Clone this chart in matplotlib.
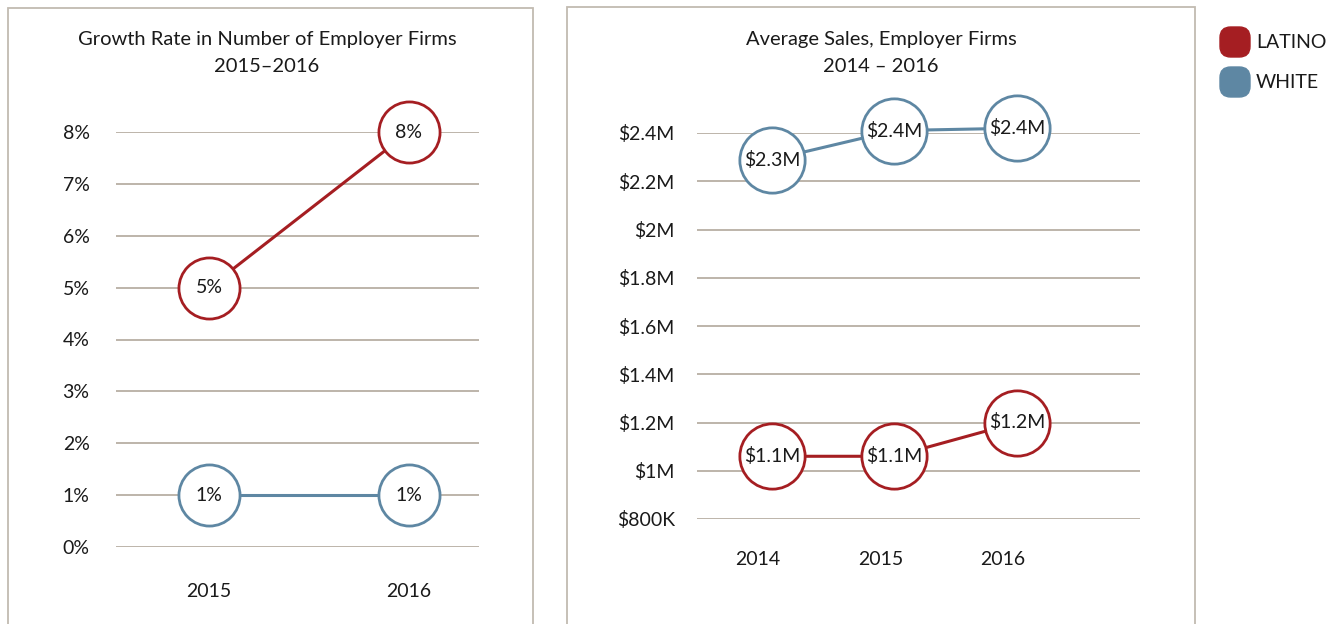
import matplotlib
matplotlib.use("Agg")
import matplotlib.pyplot as plt
from matplotlib.patches import Rectangle, FancyBboxPatch
from matplotlib.transforms import ScaledTranslation

plt.rcParams['font.family'] = ['Lato', 'DejaVu Sans']

# ---- data ----
growth_years = ["2015", "2016"]
latino_growth = [5, 8]
white_growth = [1, 1]
growth_ticks = [0, 1, 2, 3, 4, 5, 6, 7, 8]

sales_years = ["2014", "2015", "2016"]
latino_sales = [1.06, 1.06, 1.20]
white_sales = [2.29, 2.41, 2.42]
sales_ticks = [0.8, 1.0, 1.2, 1.4, 1.6, 1.8, 2.0, 2.2, 2.4]
sales_tick_labels = ["$800K", "$1M", "$1.2M", "$1.4M", "$1.6M", "$1.8M", "$2M", "$2.2M", "$2.4M"]

series_names = ["LATINO", "WHITE"]
RED = "#A51E22"
BLUE = "#5E87A3"
GRID = "#B7AFA4"
BORDER = "#C2BBB1"
TXT = "#1a1a1a"

W, H = 1332, 624
fig = plt.figure(figsize=(W / 100, H / 100), dpi=100)


def px_axes(x0, x1, ytop, ybot):
    return fig.add_axes([x0 / W, 1 - ybot / H, (x1 - x0) / W, (ybot - ytop) / H])


# panel borders
for (x0, x1, y0) in [(8, 533, 8), (567, 1195, 7)]:
    fig.patches.append(Rectangle((x0 / W, -0.05), (x1 - x0) / W, 1 - y0 / H + 0.05,
                                 transform=fig.transFigure, fill=False,
                                 edgecolor=BORDER, linewidth=1.3))


def style_axes(ax):
    for s in ax.spines.values():
        s.set_visible(False)
    ax.tick_params(length=0, labelsize=14, colors=TXT)
    ax.yaxis.grid(True, color=GRID, linewidth=1.3)
    ax.set_axisbelow(True)
    ax.patch.set_alpha(0)


def draw_series(ax, xs, vals, color, labels, msize):
    ax.plot(xs, vals, color=color, linewidth=2.2, zorder=2, clip_on=False)
    ax.plot(xs, vals, linestyle='none', marker='o', markersize=msize,
            markerfacecolor='white', markeredgecolor=color, markeredgewidth=2.0,
            zorder=3, clip_on=False)
    for x, v, lab in zip(xs, vals, labels):
        ax.text(x, v, lab, ha='center', va='center', fontsize=14, color=TXT,
                zorder=4, clip_on=False)


# ---- left panel ----
ax1 = px_axes(116, 479, 132, 547)
style_axes(ax1)
gx = list(range(len(growth_years)))
ax1.set_xlim(-0.465, 1.35)
ax1.set_ylim(0, 8)
ax1.set_yticks(growth_ticks)
ax1.set_yticklabels([f"{t}%" for t in growth_ticks])
ax1.set_xticks(gx)
ax1.set_xticklabels(growth_years)
ax1.tick_params(axis='y', pad=19)
ax1.tick_params(axis='x', pad=26)
draw_series(ax1, gx, latino_growth, RED, [f"{v}%" for v in latino_growth], 44)
draw_series(ax1, gx, white_growth, BLUE, [f"{v}%" for v in white_growth], 44)

fig.text(267 / W, 1 - 40 / H, "Growth Rate in Number of Employer Firms", ha='center',
         va='center', fontsize=14.5, color=TXT)
fig.text(267 / W, 1 - 67 / H, "2015\u20132016", ha='center', va='center',
         fontsize=14.5, color=TXT)

# ---- right panel ----
ax2 = px_axes(697, 1140, 133, 519)
style_axes(ax2)
sx = list(range(len(sales_years)))
ax2.set_xlim(-0.612, 3.004)
ax2.set_ylim(0.8, 2.4)
ax2.set_yticks(sales_ticks)
ax2.set_yticklabels(sales_tick_labels)
ax2.set_xticks(sx)
ax2.set_xticklabels(sales_years)
ax2.tick_params(axis='y', pad=16)
ax2.tick_params(axis='x', pad=23)
offset = ScaledTranslation(-14 / 100, 0, fig.dpi_scale_trans)
for lab in ax2.get_xticklabels():
    lab.set_transform(lab.get_transform() + offset)
draw_series(ax2, sx, latino_sales, RED, [f"${v:.1f}M" for v in latino_sales], 47)
draw_series(ax2, sx, white_sales, BLUE, [f"${v:.1f}M" for v in white_sales], 47)

fig.text(881 / W, 1 - 40 / H, "Average Sales, Employer Firms", ha='center',
         va='center', fontsize=14.5, color=TXT)
fig.text(881 / W, 1 - 67 / H, "2014 \u2013 2016", ha='center', va='center',
         fontsize=14.5, color=TXT)

# ---- legend ----
for i, (name, col) in enumerate(zip(series_names, [RED, BLUE])):
    yc = 42 + 40 * i
    fig.patches.append(FancyBboxPatch((1224 / W, 1 - (yc + 11) / H), 22 / W, 22 / H,
                                      boxstyle="round,pad=0.003,rounding_size=0.008",
                                      transform=fig.transFigure, facecolor=col,
                                      edgecolor=col, mutation_aspect=W / H))
    fig.text(1256 / W, 1 - yc / H, name, ha='left', va='center', fontsize=14, color=TXT)

fig.savefig("out.png", dpi=100, facecolor='white')
